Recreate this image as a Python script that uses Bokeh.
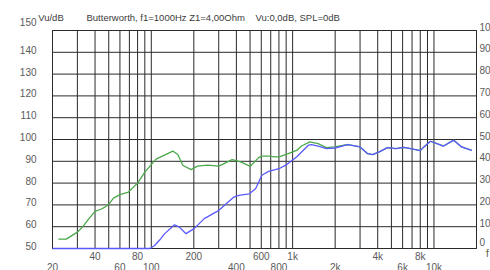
from bokeh.plotting import figure
from bokeh.models import Range1d, Label
from bokeh.embed import file_html
from bokeh.resources import INLINE

# ---- data ----
green_f = [22, 25, 30, 32.8, 36, 40, 44, 47, 50, 54, 60, 69, 80, 90, 100, 108, 124, 142, 154, 167,
           191, 212, 250, 301, 373, 428, 502, 575, 606, 676, 748, 800, 931, 1067, 1157, 1325, 1515,
           1733, 1987, 2463, 3000, 3397, 3681, 4101, 4690, 5365, 6138, 6840, 8000, 8490, 9450,
           10500, 11700, 13800, 15700, 18500]
green_db = [54.3, 54.3, 57.5, 60.0, 63.5, 67.0, 68.0, 69.0, 70.2, 73.1, 74.7, 75.9, 80.0, 85.0, 88.5,
            91.0, 92.8, 94.7, 93.1, 88.2, 86.2, 87.8, 88.2, 87.8, 90.8, 89.7, 87.7, 91.7, 92.4, 92.4,
            92.0, 92.0, 93.5, 95.0, 97.0, 98.9, 98.1, 96.3, 96.6, 97.7, 96.6, 93.5, 93.1, 94.3, 96.3,
            95.8, 96.4, 95.8, 94.9, 96.6, 99.2, 98.1, 97.0, 99.7, 96.6, 95.0]

blue_f = [20, 98, 105.5, 115, 124, 146, 158, 176, 201, 237, 301, 384, 416, 494, 547, 606, 676, 800,
          908, 1067, 1292, 1361, 1515, 1733, 1987, 2463, 3000, 3397, 3681, 4101, 4690, 5365, 6138,
          6840, 8000, 8490, 9450, 10500, 11700, 13800, 15700, 18500]
blue_db = [50.0, 50.0, 51.4, 54.0, 56.7, 60.9, 59.8, 56.8, 59.1, 63.7, 67.5, 73.6, 74.4, 75.1, 77.4,
           83.6, 85.4, 86.6, 88.5, 92.0, 97.4, 97.7, 97.0, 95.8, 96.1, 97.7, 96.6, 93.5, 93.1, 94.3,
           96.3, 95.8, 96.4, 95.8, 94.9, 96.6, 99.2, 98.1, 97.0, 99.7, 96.6, 95.0]

y_ticks = [50, 60, 70, 80, 90, 100, 110, 120, 130, 140, 150]
right_ticks = [0, 10, 20, 30, 40, 50, 60, 70, 80, 90, 100]
grid_f = [20, 30, 40, 50, 60, 70, 80, 90, 100, 200, 300, 400, 500, 600, 700, 800, 900,
          1000, 2000, 3000, 4000, 5000, 6000, 7000, 8000, 9000, 10000, 20000]
x_label_f = [20, 40, 60, 80, 100, 200, 400, 600, 800, 1000, 2000, 4000, 6000, 8000, 10000]
x_label_txt = ["20", "40", "60", "80", "100", "200", "400", "600", "800", "1k", "2k", "4k",
               "6k", "8k", "10k"]
title_a = "Butterworth, f1=1000Hz Z1=4,00Ohm"
title_b = "Vu:0,0dB, SPL=0dB"
y_unit = "Vu/dB"
x_unit = "f"

# ---- layout (pixels) ----
W, H = 490, 270
L, R, T, B = 52, 476, 30, 248
f_lo, f_hi = grid_f[0], grid_f[-1]
v_lo, v_hi = y_ticks[0], y_ticks[-1]
dec = (R - L) / 3.0
ppd = (B - T) / float(v_hi - v_lo)

FONT = "Liberation Sans"
LBL = "#5a5a5a"
TTL = "#3c3c3c"
GRID = "#2b2b2b"

p = figure(width=W, height=H, x_axis_type="log",
           x_range=Range1d(f_lo * 10 ** (-L / dec), f_lo * 10 ** ((W - L) / dec)),
           y_range=Range1d(v_lo - (H - B) / ppd, v_hi + T / ppd),
           x_axis_location=None, y_axis_location=None,
           output_backend="svg", toolbar_location=None,
           min_border=0, min_border_left=0, min_border_right=0,
           min_border_top=0, min_border_bottom=0)
p.grid.visible = False
p.outline_line_color = None
p.background_fill_color = "white"
p.border_fill_color = "white"

# grid lines and frame
p.segment(x0=grid_f, x1=grid_f, y0=[v_lo] * len(grid_f), y1=[v_hi] * len(grid_f),
          line_color=GRID, line_width=1)
p.segment(x0=[f_lo] * len(y_ticks), x1=[f_hi] * len(y_ticks), y0=y_ticks, y1=y_ticks,
          line_color=GRID, line_width=1)
p.quad(left=[f_lo], right=[f_hi], bottom=[v_lo], top=[v_hi], fill_color=None,
       line_color=GRID, line_width=1)

# curves
p.line(green_f, green_db, line_color="#4ba84b", line_width=1.3)
p.line(blue_f, blue_db, line_color="#5a5aff", line_width=1.3)

# left tick labels
for t in y_ticks:
    p.add_layout(Label(x=f_lo, y=t, text=str(t), x_offset=-16,
                       y_offset=(9 if t == v_hi else 2.5),
                       text_align="right", text_baseline="middle",
                       text_font=FONT, text_font_size="10px", text_color=LBL))
# right tick labels (Vu scale = SPL - 50)
for t in right_ticks:
    p.add_layout(Label(x=f_hi, y=t + v_lo, text=str(t), x_offset=3,
                       y_offset=(6.5 if t == 0 else 4),
                       text_align="left", text_baseline="middle",
                       text_font=FONT, text_font_size="10px", text_color=LBL))
# staggered frequency labels
for i, (f, s) in enumerate(zip(x_label_f, x_label_txt)):
    p.add_layout(Label(x=f, y=v_lo, text=s, y_offset=(-18.8 if i % 2 == 0 else -7.7),
                       text_align="center", text_baseline="middle",
                       text_font=FONT, text_font_size="10px", text_color=LBL))

# titles
for txt, dx in [(y_unit, -14.3), (title_a, 34), (title_b, 203)]:
    p.add_layout(Label(x=f_lo, y=v_hi, text=txt, x_offset=dx, y_offset=13.3,
                       text_align="left", text_baseline="middle",
                       text_font=FONT, text_font_size="9.5px", text_color=TTL))
p.add_layout(Label(x=f_hi, y=v_lo, text=x_unit, x_offset=9.5, y_offset=-4.7,
                   text_align="left", text_baseline="middle",
                   text_font=FONT, text_font_size="10px", text_color="#5a5a3a"))

open("out.html", "w").write(file_html(p, INLINE))
